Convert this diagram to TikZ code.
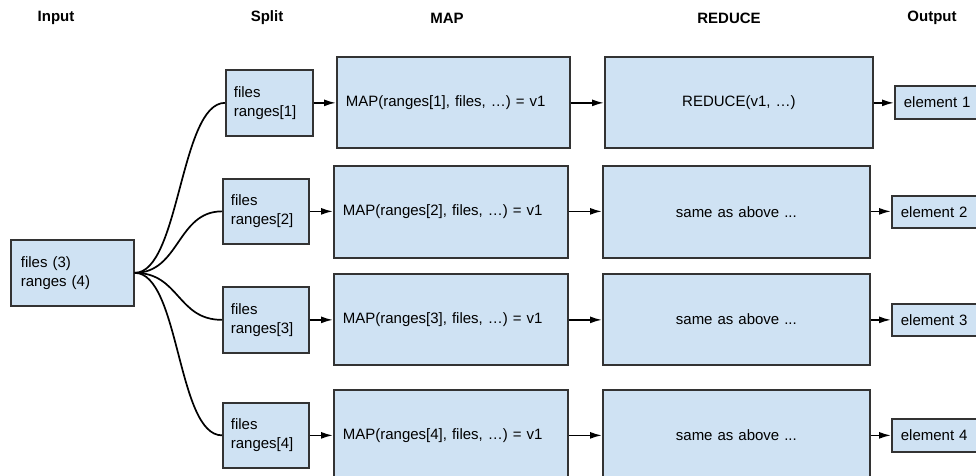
\documentclass[tikz,border=0pt]{standalone}
\usepackage{fontspec}
\setmainfont{Liberation Sans}
\usetikzlibrary{arrows.meta,calc}
\definecolor{boxblue}{HTML}{CFE2F3}
\definecolor{boxline}{HTML}{333333}
\tikzset{
  box/.style={draw=boxline, fill=boxblue, line width=1.7pt, anchor=north west,
    inner xsep=8pt, inner ysep=0pt, align=left, font=\fontsize{15}{19}\selectfont},
  head/.style={font=\fontsize{15}{18}\selectfont\bfseries},
  flow/.style={-{Latex[length=12pt,width=7pt]}, line width=1.7pt},
  fan/.style={line width=1.7pt}
}
\begin{document}
\begin{tikzpicture}[x=1pt,y=-1pt]
            \useasboundingbox (0,0) rectangle (976,475);
            \clip (0,0) rectangle (976,475);

            % Titulos
            \node[head] (hin) at (56,18) {Input};
            \node[head] (hsplit) at (267,18) {Split};
            \node[head] (hmap) at (447,18) {MAP};
            \node[head] (hred) at (729,18) {REDUCE};
            \node[head] (hout) at (932,18) {Output};

            % Entrada
            \node[box, minimum width=123pt, minimum height=66pt, text width=103pt, inner xsep=10pt] (input) at (10,239) {files (3)\\ranges (4)};

            % Split
            \node[box, minimum width=87pt, minimum height=66pt, text width=71pt] (split1) at (225,69) {files\\ranges[1]};
            \node[box, minimum width=86pt, minimum height=65pt, text width=70pt] (split2) at (222,178) {files\\ranges[2]};
            \node[box, minimum width=86pt, minimum height=66pt, text width=70pt] (split3) at (222,286) {files\\ranges[3]};
            \node[box, minimum width=86pt, minimum height=65pt, text width=70pt] (split4) at (222,402) {files\\ranges[4]};

            % MAP
            \node[box, minimum width=233pt, minimum height=91pt, text width=215pt, inner xsep=9pt] (map1) at (336,56) {MAP(ranges[1], files, \dots) = v1};
            \node[box, minimum width=234pt, minimum height=92pt, text width=216pt, inner xsep=9pt] (map2) at (333,165) {MAP(ranges[2], files, \dots) = v1};
            \node[box, minimum width=234pt, minimum height=91pt, text width=216pt, inner xsep=9pt] (map3) at (333,273) {MAP(ranges[3], files, \dots) = v1};
            \node[box, minimum width=234pt, minimum height=91pt, text width=216pt, inner xsep=9pt] (map4) at (333,389) {MAP(ranges[4], files, \dots) = v1};

            % REDUCE
            \node[box, minimum width=268pt, minimum height=91pt, text width=252pt, align=center] (red1) at (604,56) {REDUCE(v1, \dots)};
            \node[box, minimum width=267pt, minimum height=92pt, text width=251pt, align=center] (red2) at (602,165) {same as above ...};
            \node[box, minimum width=267pt, minimum height=91pt, text width=251pt, align=center] (red3) at (602,273) {same as above ...};
            \node[box, minimum width=267pt, minimum height=91pt, text width=251pt, align=center] (red4) at (602,389) {same as above ...};

            % Output
            \node[box, minimum width=90pt, minimum height=33pt, text width=74pt, inner xsep=9pt] (out1) at (894,85) {element 1};
            \node[box, minimum width=90pt, minimum height=32pt, text width=74pt, inner xsep=9pt] (out2) at (891,195) {element 2};
            \node[box, minimum width=90pt, minimum height=32pt, text width=74pt, inner xsep=9pt] (out3) at (891,303) {element 3};
            \node[box, minimum width=90pt, minimum height=33pt, text width=74pt, inner xsep=9pt] (out4) at (891,418) {element 4};

            % Curvas de entrada
            \foreach \s in {split1,split2,split3,split4}
              \draw[fan] (input.east) .. controls ($(input.east)+(45,0)$) and ($(\s.west)+(-45,0)$) .. (\s.west);

            % Setas
            \foreach \i in {1,2,3,4} {
              \draw[flow] (split\i.east) -- (map\i.west |- split\i.east);
              \draw[flow] (map\i.east |- split\i.east) -- (red\i.west |- split\i.east);
              \draw[flow] (red\i.east |- split\i.east) -- (out\i.west |- split\i.east);
            }
        \end{tikzpicture}
\end{document}
